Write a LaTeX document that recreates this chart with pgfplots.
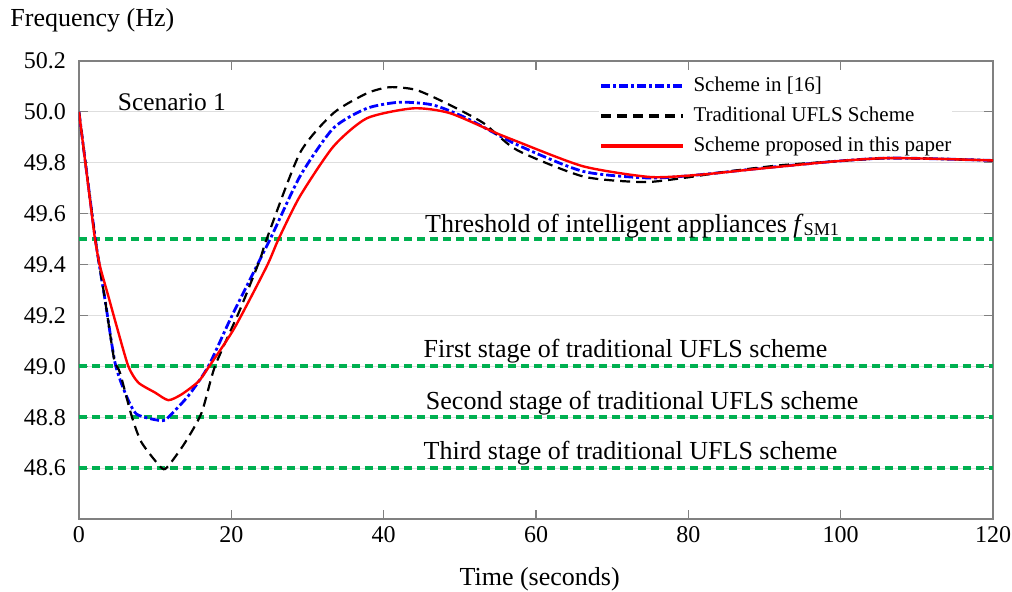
\documentclass[border=0pt]{standalone}
\usepackage{pgfplots}
\pgfplotsset{compat=1.18}
\usepackage{fontspec}
\setmainfont{Liberation Serif}

\definecolor{stagegreen}{RGB}{0,176,80}
\definecolor{gridgray}{RGB}{222,222,222}
\definecolor{axisgray}{RGB}{128,128,128}

\begin{document}
\begin{tikzpicture}
\path[use as bounding box] (-39.5pt,-36.5pt) rectangle (466.5pt,259.5pt);
\begin{axis}[
    scale only axis,
    width=457pt, height=229pt,
    xmin=0, xmax=120, ymin=48.4, ymax=50.2,
    xtick={0,20,...,120},
    ytick={48.6,48.8,...,50.2},
    ymajorgrids,
    grid style={gridgray, line width=0.6pt},
    axis line style={axisgray, line width=0.6pt},
    tick style={axisgray, line width=0.6pt},
    tick align=inside,
    major tick length=4.5pt,
    /pgf/number format/assume math mode=true,
    xticklabel={\pgfmathprintnumber{\tick}},
    yticklabel={\pgfmathprintnumber[fixed, fixed zerofill, precision=1]{\tick}},
    yticklabel style={xshift=-3pt},
    ticklabel style={font=\fontsize{12}{12}\selectfont},
    xlabel={Time (seconds)},
    xlabel style={at={(axis description cs:0.504,0)}, anchor=center, yshift=-30pt,
                  font=\fontsize{13}{13}\selectfont},
    legend style={at={(axis description cs:0.569,1)}, anchor=north west, yshift=-7pt,
                  draw=none, fill=white, inner sep=0pt, row sep=4.5pt,
                  font=\fontsize{10.5}{12}\selectfont,
                  nodes={inner sep=0.5pt, text height=7.5pt, text depth=2pt}},
    legend cell align=left,
    legend image code/.code={\draw[#1, line width=1.7pt] (0pt,0pt) -- (41pt,0pt); \path (45pt,0pt);},
]

% threshold lines
\addplot[stagegreen, line width=2pt, dash pattern=on 4pt off 2.5pt, forget plot] coordinates {(0,49.5) (120,49.5)};
\addplot[stagegreen, line width=2pt, dash pattern=on 4pt off 2.5pt, forget plot] coordinates {(0,49.0) (120,49.0)};
\addplot[stagegreen, line width=2pt, dash pattern=on 4pt off 2.5pt, forget plot] coordinates {(0,48.8) (120,48.8)};
\addplot[stagegreen, line width=2pt, dash pattern=on 4pt off 2.5pt, forget plot] coordinates {(0,48.6) (120,48.6)};

% scheme in [16]
\addplot[blue, line width=1.4pt, smooth, tension=0.4, dash pattern=on 4.5pt off 1.5pt on 1.5pt off 1.5pt] coordinates {
    (0,50.0) (2.1,49.51) (3.41,49.263) (4.73,49.014) (6.04,48.897) (7.57,48.812)
    (10.86,48.786) (11.73,48.80) (14.35,48.884) (16.98,49.0) (20.1,49.2) (25.1,49.5)
    (29.0,49.746) (33.4,49.936) (37.8,50.014) (42.1,50.038) (46.5,50.027) (50.9,49.975)
    (57.5,49.871) (66.2,49.766) (75.0,49.74) (81.5,49.753) (90,49.78) (99,49.805)
    (105.6,49.818) (112,49.816) (120,49.809)
};
\addlegendentry{Scheme in [16]}

% traditional UFLS
\addplot[black, line width=1.1pt, smooth, tension=0.4, dash pattern=on 5pt off 3pt] coordinates {
    (0,50.0) (2.1,49.51) (3.41,49.263) (4.6,49.03) (5.38,48.975) (6.91,48.805)
    (8.23,48.70) (10.86,48.60) (11.73,48.609) (13.92,48.70) (16.1,48.818) (17.85,49.0)
    (21.1,49.22) (23.76,49.42) (24.64,49.5) (29.0,49.838) (33.4,49.995) (37.8,50.073)
    (40.8,50.097) (44.3,50.086) (48.7,50.027) (53.1,49.956) (57.5,49.85) (66.2,49.746)
    (74.1,49.724) (79.3,49.74) (85,49.765) (92,49.79) (99,49.805) (105.6,49.818)
    (112,49.816) (120,49.809)
};
\addlegendentry{Traditional UFLS Scheme}

% proposed
\addplot[red, line width=1.2pt, smooth, tension=0.4] coordinates {
    (0,50.0) (1.44,49.655) (2.1,49.5) (2.76,49.393) (3.85,49.276) (4.94,49.158)
    (6.48,49.00) (7.79,48.936) (9.98,48.897) (11.73,48.867) (13.48,48.89) (15.67,48.94)
    (16.98,48.995) (20.4,49.15) (24.6,49.39) (26.2,49.5) (29.0,49.668) (33.4,49.864)
    (37.8,49.975) (43.9,50.014) (48.7,49.995) (55.3,49.91) (57.5,49.884) (66.2,49.786)
    (75.0,49.744) (81.5,49.753) (88.1,49.773) (99,49.805) (105.6,49.818) (112,49.816)
    (120,49.809)
};
\addlegendentry{Scheme proposed in this paper}

\node[anchor=base, inner sep=0pt, font=\fontsize{12.7}{13}\selectfont] at (axis cs:12.2,50.005) {Scenario 1};

\node[anchor=base west, inner sep=0pt, font=\fontsize{13}{13}\selectfont, yshift=3.5pt] at (axis cs:45.4,49.5)
    {Threshold of intelligent appliances \textit{f}\textsubscript{SM1}};
\node[anchor=base west, inner sep=0pt, font=\fontsize{13}{13}\selectfont, yshift=4.5pt] at (axis cs:45.2,49.0)
    {First stage of traditional UFLS scheme};
\node[anchor=base west, inner sep=0pt, font=\fontsize{13}{13}\selectfont, yshift=3.8pt] at (axis cs:45.5,48.8)
    {Second stage of traditional UFLS scheme};
\node[anchor=base west, inner sep=0pt, font=\fontsize{13}{13}\selectfont, yshift=4.5pt] at (axis cs:45.2,48.6)
    {Third stage of traditional UFLS scheme};
\end{axis}
\node[anchor=base west, inner sep=0pt, font=\fontsize{13}{14}\selectfont] at (-34.5pt,246pt) {Frequency (Hz)};
\end{tikzpicture}
\end{document}
